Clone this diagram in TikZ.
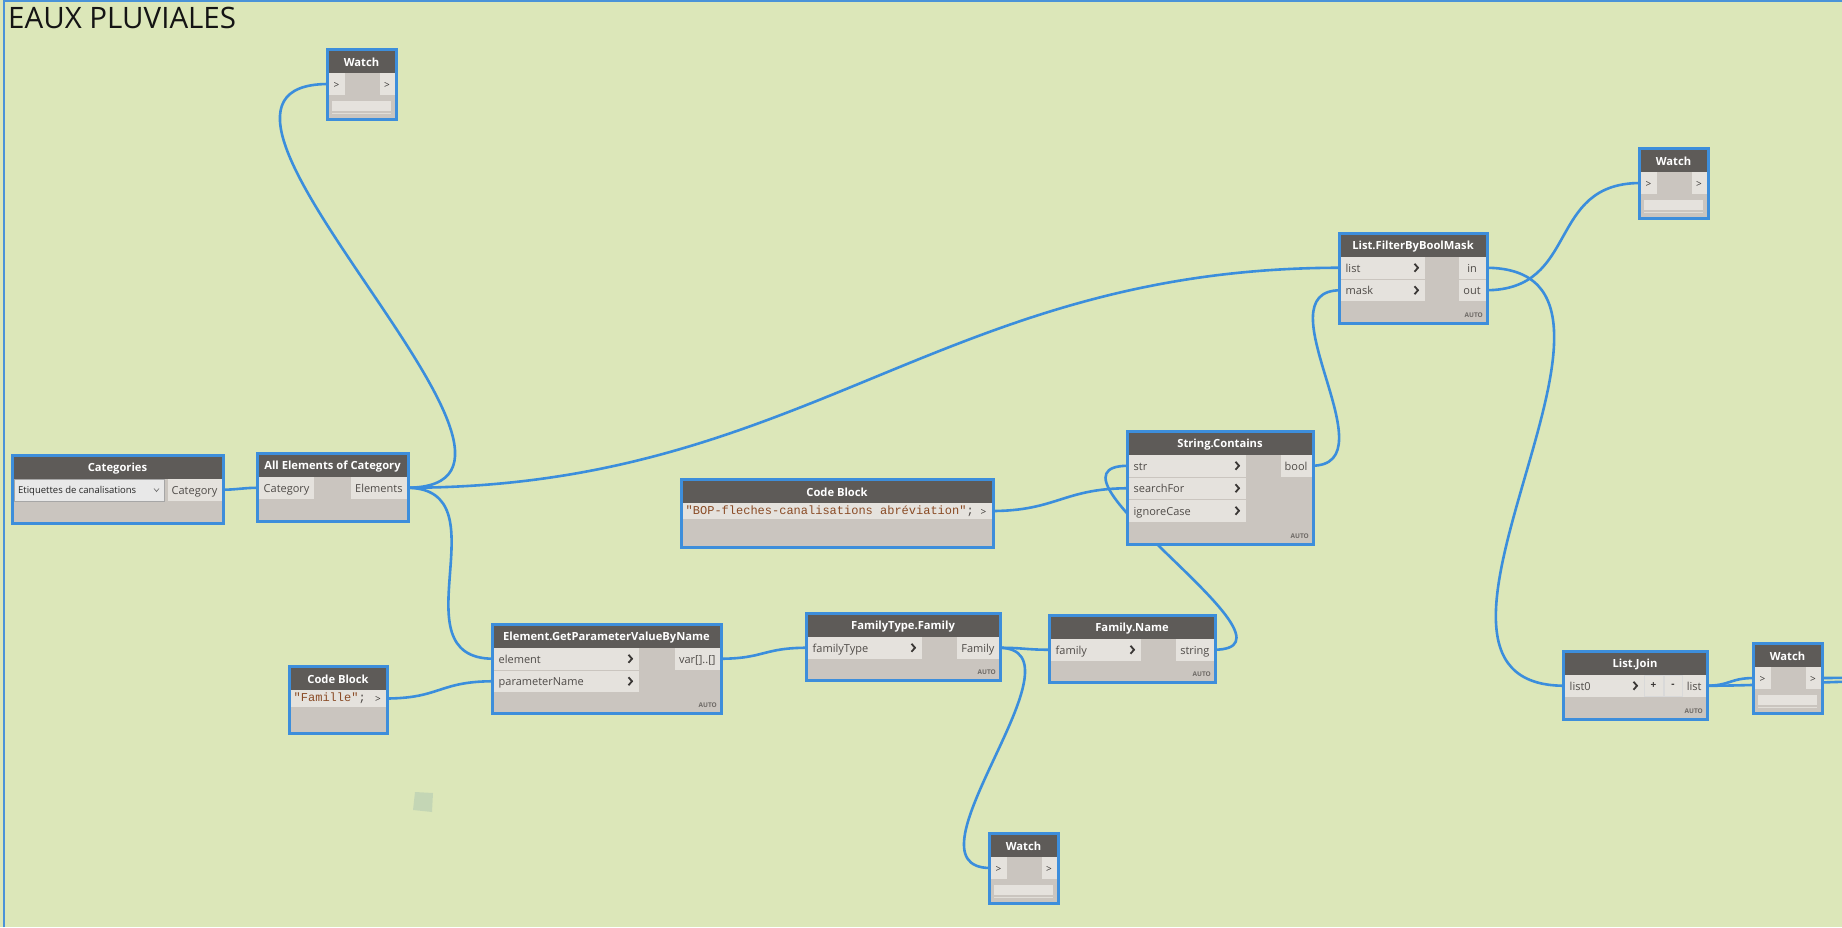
\documentclass[tikz,border=0pt]{standalone}
\usepackage{fontspec}
\setmainfont{Open Sans}
\newfontfamily\codefont{Liberation Mono}
\pgfdeclarelayer{back}
\pgfdeclarelayer{wires}
\pgfdeclarelayer{front}
\pgfsetlayers{back,wires,main,front}
\definecolor{bgc}{HTML}{DCE7B9}
\definecolor{hdrc}{HTML}{5E5B58}
\definecolor{bodyc}{HTML}{CAC5BF}
\definecolor{portc}{HTML}{E5E2DD}
\definecolor{blueb}{HTML}{3D8EDB}
\definecolor{wirec}{HTML}{3B8EDC}
\definecolor{ptextc}{HTML}{4F4B48}
\definecolor{chevc}{HTML}{3A3735}
\definecolor{codec}{HTML}{8A4B25}
\definecolor{autoc}{HTML}{6D6965}
\definecolor{groupc}{HTML}{4A93D8}
\tikzset{
  box/.style={anchor=north west, inner sep=0pt, outer sep=0pt, fill=bodyc},
  border/.style={draw=blueb, line width=3pt},
  hdrtitle/.style={text=white, font=\bfseries\fontsize{11.2}{12}\selectfont, inner sep=0pt},
  pbox/.style={anchor=north west, inner sep=0pt, outer sep=0pt, fill=portc, minimum height=21.5pt},
  ptext/.style={text=ptextc, font=\fontsize{11}{12}\selectfont, inner sep=0pt, anchor=west, text height=8pt, text depth=2.5pt, yshift=-1.5pt},
  obox/.style={anchor=north east, inner xsep=4pt, inner ysep=0pt, outer sep=0pt, fill=portc, minimum height=21.5pt, text=ptextc, font=\fontsize{11}{12}\selectfont, text height=10.5pt, text depth=2pt},
  chev/.style={draw=chevc, line width=1.8pt},
  autotxt/.style={text=autoc, font=\bfseries\fontsize{6.5}{7}\selectfont, inner sep=0pt},
  wtxt/.style={text=chevc, font=\fontsize{10}{11}\selectfont, inner sep=0pt, yshift=-1pt},
  codetxt/.style={text=ptextc, font=\codefont\fontsize{12}{13}\selectfont, inner sep=0pt, text height=8.5pt, text depth=2.5pt},
  wire/.style={draw=wirec, line width=2.6pt},
  ddbox/.style={anchor=north west, inner sep=0pt, outer sep=0pt, fill=white!91!black, draw=black!35, line width=0.8pt, minimum height=22pt},
  ddtext/.style={text=black!85, font=\fontsize{9.5}{10}\selectfont, inner sep=0pt, anchor=west, yshift=-1pt},
  btn/.style={anchor=north west, inner sep=0pt, outer sep=0pt, fill=portc, draw=black!15, line width=0.6pt, minimum height=21.5pt, text=chevc, font=\bfseries\fontsize{10}{11}\selectfont},
  groupline/.style={draw=groupc, line width=2pt},
}
\newcommand\DNode[6]{%
  \node[box, minimum width=#4pt, minimum height=#5pt] (#1) at (#2,#3) {};
  \fill[hdrc] (#1.north west) rectangle ([yshift=-24pt]#1.north east);
  \node[hdrtitle] (#1-title) at ([yshift=-13.5pt]#1.north) {#6};
  \begin{pgfonlayer}{front}\draw[border] (#1.north west) rectangle (#1.south east);\end{pgfonlayer}
}
\newcommand\InPort[6]{%
  \node[pbox, minimum width=#4pt] (#1) at (#2,#3) {};
  \node[ptext] at ([xshift=5pt]#1.west) {#5};
  \ifnum#6=1 \draw[chev] ([shift={(-10,-4)}]#1.east) -- ([shift={(-6.5,0)}]#1.east) -- ([shift={(-10,4)}]#1.east);\fi
}
\newcommand\OutPort[4]{%
  \node[obox] (#1) at (#2,#3) {#4};
}
\newcommand\AutoLbl[1]{%
  \node[autotxt, anchor=south east] at ([shift={(-4,-5)}]#1.south east) {AUTO};
}
\newcommand\WatchNode[3]{%
  \DNode{#1}{#2}{#3}{69}{70}{Watch}
  \node[pbox, minimum width=16pt, minimum height=22pt] (#1-in) at ([shift={(1.5,24)}]#1.north west) {};
  \node[wtxt] at (#1-in) {>};
  \node[pbox, minimum width=15pt, minimum height=22pt, anchor=north east] (#1-out) at ([shift={(-1.5,24)}]#1.north east) {};
  \node[wtxt] at (#1-out) {>};
  \fill[portc] ([shift={(5,52)}]#1.north west) rectangle ([shift={(64,62)}]#1.north west);
  \fill[portc!85!bodyc] ([shift={(5,63.5)}]#1.north west) rectangle ([shift={(64,65)}]#1.north west);
}
\newcommand\Wire[3]{%
  \draw[wire] (#1) .. controls +(#3,0) and +(-#3,0) .. (#2);
}
\begin{document}
\begin{tikzpicture}[x=1pt,y=-1pt]
\useasboundingbox (0,0) rectangle (1842,927);
\clip (0,0) rectangle (1842,927);
\begin{pgfonlayer}{back}
\fill[bgc] (0,0) rectangle (1842,927);
\draw[groupline] (3.5,927) -- (3.5,1) -- (1842,1);
\fill[green!30!black!30, opacity=0.55] (415,792) -- (433,793) -- (432,812) -- (413,810) -- cycle;
\end{pgfonlayer}
\node[anchor=base west, inner sep=0pt, text=black!92, font=\fontsize{29.5}{30}\selectfont] (grouptitle) at (8,28) {EAUX PLUVIALES};

% Categories
\DNode{cat}{12}{455}{211}{68}{Categories}
\node[ddbox, minimum width=150pt] (cat-dd) at (14,479) {};
\node[ddtext] at ([xshift=4pt]cat-dd.west) {Etiquettes de canalisations};
\draw[black!55, line width=0.7pt] ([shift={(-10,-1.5)}]cat-dd.east) -- ([shift={(-7.5,1.5)}]cat-dd.east) -- ([shift={(-5,-1.5)}]cat-dd.east);
\OutPort{cat-out}{221.5}{479}{Category}

% All Elements of Category
\DNode{ae}{257}{453}{151}{68}{All Elements of Category}
\InPort{ae-in}{258.5}{477}{55}{Category}{0}
\OutPort{ae-out}{406.5}{477}{Elements}

% Watch nodes
\WatchNode{w1}{327}{49}
\WatchNode{w2}{1639}{148}
\WatchNode{w3}{1753}{643}
\WatchNode{w4}{989}{833}

% Element.GetParameterValueByName
\DNode{gp}{492}{624}{229}{89}{Element.GetParameterValueByName}
\InPort{gp-el}{493.5}{648}{145}{element}{1}
\InPort{gp-pn}{493.5}{670.5}{145}{parameterName}{1}
\OutPort{gp-out}{719.5}{648}{var[]..[]}
\AutoLbl{gp}

% Code Block small
\DNode{cbs}{289}{666}{98}{67}{Code Block}
\node[pbox, minimum width=80pt, minimum height=17pt] (cbs-code) at (290.5,690) {};
\node[codetxt, anchor=west] at ([xshift=3pt]cbs-code.west) {\textcolor{codec}{"Famille"};};
\node[pbox, minimum width=15pt, minimum height=17pt, anchor=north east] (cbs-out) at (385.5,690) {};
\node[wtxt] at (cbs-out) {>};

% Code Block long
\DNode{cbl}{681}{479}{312}{68}{Code Block}
\node[pbox, minimum width=293pt, minimum height=16pt] (cbl-code) at (682.5,503) {};
\node[codetxt, anchor=west] at ([xshift=3pt]cbl-code.west) {\textcolor{codec}{"BOP-fleches-canalisations abréviation"};};
\node[pbox, minimum width=16pt, minimum height=16pt, anchor=north east] (cbl-out) at (991.5,503) {};
\node[wtxt] at (cbl-out) {>};

% FamilyType.Family
\DNode{ftf}{806}{613}{194}{67}{FamilyType.Family}
\InPort{ftf-in}{807.5}{637}{114}{familyType}{1}
\OutPort{ftf-out}{998.5}{637}{Family}
\AutoLbl{ftf}

% Family.Name
\DNode{fn}{1049}{615}{166}{67}{Family.Name}
\InPort{fn-in}{1050.5}{639}{90}{family}{1}
\OutPort{fn-out}{1213.5}{639}{string}
\AutoLbl{fn}

% String.Contains
\DNode{sc}{1127}{431}{186}{113}{String.Contains}
\InPort{sc-str}{1128.5}{455}{117}{str}{1}
\InPort{sc-sf}{1128.5}{477.5}{117}{searchFor}{1}
\InPort{sc-ic}{1128.5}{500}{117}{ignoreCase}{1}
\OutPort{sc-out}{1311.5}{455}{bool}
\AutoLbl{sc}

% List.FilterByBoolMask
\DNode{fb}{1339}{233}{148}{90}{List.FilterByBoolMask}
\InPort{fb-list}{1340.5}{257}{84}{list}{1}
\InPort{fb-mask}{1340.5}{279.5}{84}{mask}{1}
\node[obox, minimum width=27pt] (fb-in) at (1485.5,257) {in};
\node[obox, minimum width=27pt] (fb-out) at (1485.5,279.5) {out};
\AutoLbl{fb}

% List.Join
\DNode{lj}{1563}{651}{144}{68}{List.Join}
\InPort{lj-in}{1564.5}{675}{79}{list0}{1}
\node[btn, minimum width=19pt] (lj-plus) at (1644,675) {+};
\node[btn, minimum width=18pt] (lj-minus) at (1664,675) {-};
\OutPort{lj-out}{1705.5}{675}{list}
\AutoLbl{lj}

\coordinate (offa) at (1890,681);
\coordinate (offb) at (1890,677);

\begin{pgfonlayer}{wires}
\Wire{cat-out.east}{ae-in.west}{15}
\Wire{ae-out.east}{w1-in.west}{195}
\Wire{ae-out.east}{fb-list.west}{400}
\Wire{ae-out.east}{gp-el.west}{100}
\Wire{cbs-out.east}{gp-pn.west}{55}
\Wire{gp-out.east}{ftf-in.west}{45}
\Wire{ftf-out.east}{fn-in.west}{25}
\Wire{ftf-out.east}{w4-in.west}{95}
\Wire{fn-out.east}{sc-str.west}{105}
\Wire{cbl-out.east}{sc-sf.west}{65}
\Wire{sc-out.east}{fb-mask.west}{82}
\Wire{fb-in.east}{lj-in.west}{200}
\Wire{fb-out.east}{w2-in.west}{95}
\Wire{lj-out.east}{w3-in.west}{25}
\Wire{lj-out.east}{offa}{60}
\Wire{w3-out.east}{offb}{30}
\end{pgfonlayer}
\end{tikzpicture}
\end{document}
